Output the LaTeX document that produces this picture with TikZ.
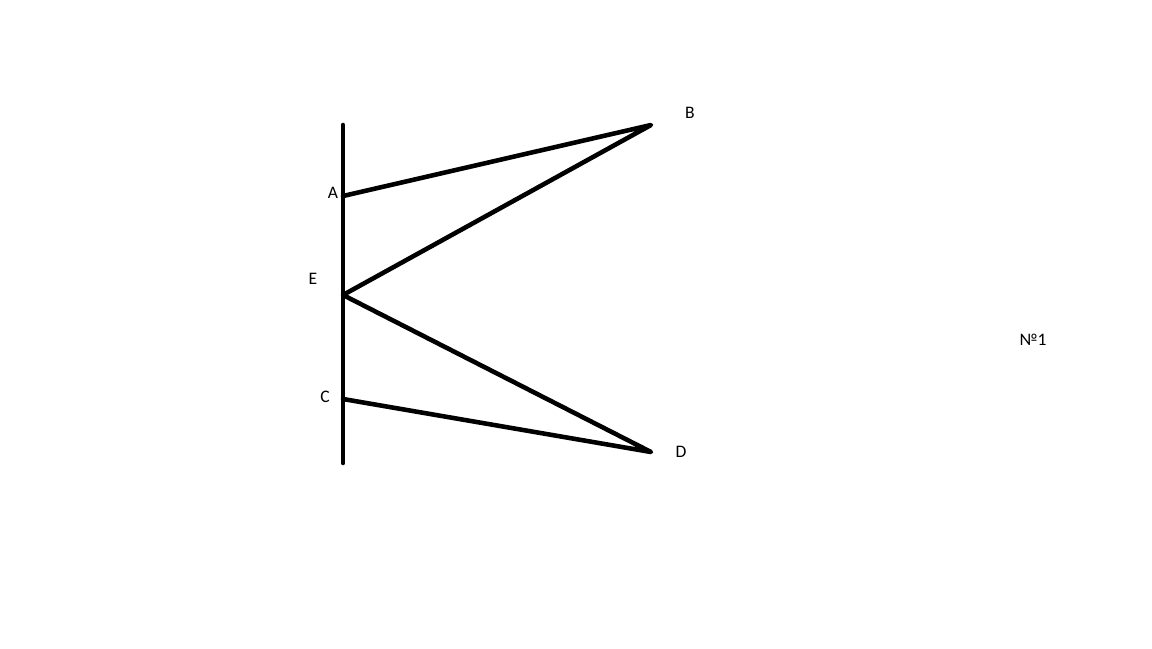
\documentclass[tikz,border=0pt]{standalone}
\usepackage{fontspec}
\setmainfont{Carlito}
\begin{document}
\begin{tikzpicture}[x=0.01cm,y=-0.01cm,
  seg/.style={line width=1.3pt,line cap=round,line join=round},
  lbl/.style={font=\fontsize{5}{6}\selectfont,inner sep=0pt}]
\useasboundingbox[fill=white] (0,0) rectangle (1152,648);
\coordinate (top) at (343,125);
\coordinate (bot) at (343,463);
\coordinate (A) at (343,196);
\coordinate (E) at (343,295);
\coordinate (C) at (343,399);
\coordinate (B) at (651,125);
\coordinate (D) at (651,452);
\draw[seg] (top) -- (bot);
\draw[seg] (A) -- (B) -- (E) -- (D) -- (C);
\node[lbl] (lA) at (333,193) {A};
\node[lbl] (lB) at (690,113) {B};
\node[lbl] (lE) at (313,279) {E};
\node[lbl] (lC) at (325,397) {C};
\node[lbl] (lD) at (681,452) {D};
\node[lbl] (lN) at (1033,340) {№1};
\end{tikzpicture}
\end{document}
